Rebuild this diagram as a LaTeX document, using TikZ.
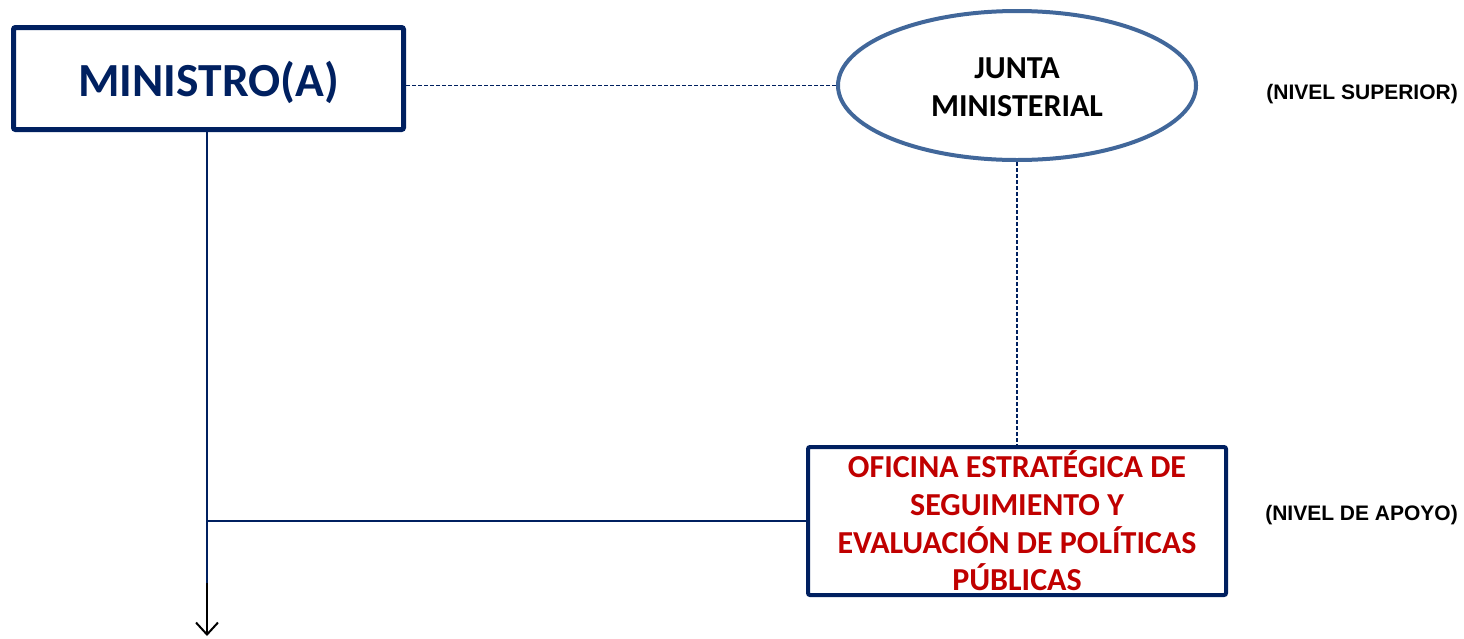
\documentclass[tikz,border=0pt]{standalone}
\usepackage{fontspec}
\setmainfont{Carlito}
\newfontfamily\arialf{Liberation Sans}
\usetikzlibrary{shapes.geometric,arrows.meta}
\definecolor{navy}{HTML}{002060}
\definecolor{ellblue}{HTML}{41679A}
\definecolor{darkred}{HTML}{C00000}
\tikzset{
  unitbox/.style={draw=navy, rectangle, rounded corners=2pt, inner sep=0pt, fill=white},
  dashline/.style={draw=navy, line width=1.6pt, dash pattern=on 4pt off 2pt},
  solidline/.style={draw=navy, line width=2pt},
  levellabel/.style={font=\arialf\bfseries\fontsize{21}{24}\selectfont, anchor=east, inner sep=0pt}
}
\newcommand{\lowerby}[2]{\raisebox{-#1}[\height][\depth]{#2}}
\begin{document}
\begin{tikzpicture}[x=1pt,y=-1pt]
\useasboundingbox (0,0) rectangle (1464,638);
\node[unitbox, line width=5pt, minimum width=390pt, minimum height=102pt,
      text=navy, font=\bfseries\fontsize{47.5}{50}\selectfont] (min) at (208.5,78.5) {\lowerby{4pt}{MINISTRO(A)}};
\node[ellipse, draw=ellblue, line width=4pt, inner sep=0pt, minimum width=358pt, minimum height=149pt,
      align=center, font=\bfseries\fontsize{32}{38}\selectfont] (jun) at (1017,85.5) {\lowerby{2pt}{JUNTA}\\\lowerby{2pt}{MINISTERIAL}};
\node[unitbox, line width=4pt, minimum width=418pt, minimum height=148pt, align=center,
      text=darkred, font=\bfseries\fontsize{32}{37.7}\selectfont] (ofi) at (1017,521)
      {OFICINA ESTRATÉGICA DE\\SEGUIMIENTO Y\\EVALUACIÓN DE POLÍTICAS\\PÚBLICAS};
\node[levellabel] (ls) at (1458,94) {(NIVEL SUPERIOR)};
\node[levellabel] (la) at (1458,515) {(NIVEL DE APOYO)};
\coordinate (a) at (207,583);
\coordinate (tip) at (207,636);
\draw[dashline] (jun.west) -- (jun.west -| min.east);
\draw[dashline] (jun.south) -- (ofi.north);
\draw[solidline] (min.south -| a) -- (a);
\draw[solidline] (ofi.west) -- (ofi.west -| a);
\draw[black, line width=2pt, -{Straight Barb[length=12pt,width=22pt,line width=2pt]}] (a) -- (tip);
\end{tikzpicture}
\end{document}
